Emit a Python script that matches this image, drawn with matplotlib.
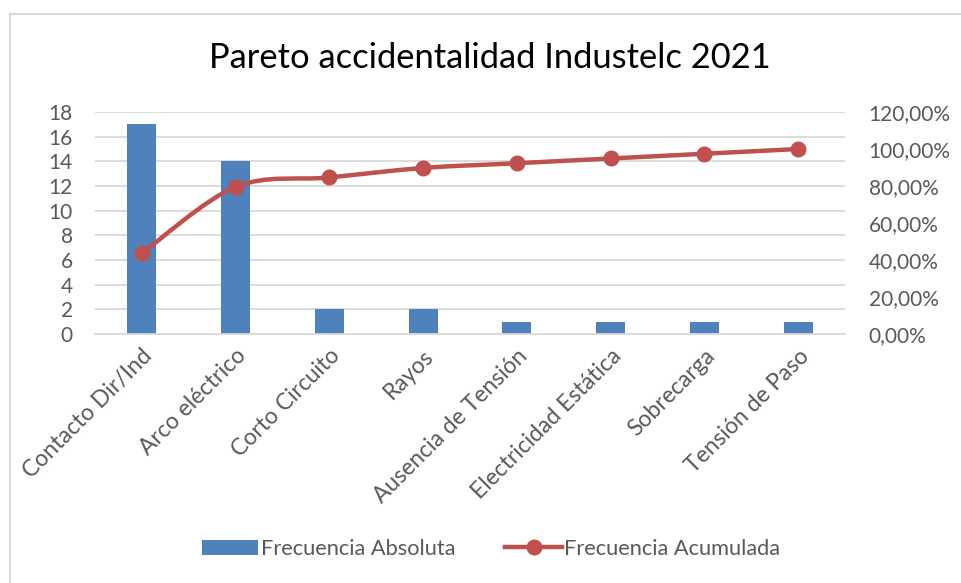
import matplotlib
matplotlib.use("Agg")
import matplotlib.pyplot as plt
from matplotlib.path import Path
from matplotlib.patches import PathPatch, Patch
from matplotlib.lines import Line2D
from matplotlib.ticker import FuncFormatter

# data
causas = ["Contacto Dir/Ind", "Arco eléctrico", "Corto Circuito", "Rayos",
          "Ausencia de Tensión", "Electricidad Estática", "Sobrecarga", "Tensión de Paso"]
frec_absoluta = [17, 14, 2, 2, 1, 1, 1, 1]
frec_acumulada = [0.4359, 0.7949, 0.8462, 0.8974, 0.9231, 0.9487, 0.9744, 1.0]

BLUE = "#4F81BD"
RED = "#C0504D"
TEXT = "#595959"
GRID = "#D9D9D9"

plt.rcParams["font.family"] = ["Lato", "DejaVu Sans"]

fig = plt.figure(figsize=(9.62, 5.83), dpi=100)
W, H = 962, 583
ax = fig.add_axes([95 / W, 1 - 334 / H, 750 / W, 222 / H])
ax2 = ax.twinx()

x = list(range(len(causas)))
ax.bar(x, frec_absoluta, width=0.31, color=BLUE, zorder=2)
ax.set_xlim(-0.5, len(causas) - 0.5)
ax.set_ylim(0, 18)
ax.set_yticks(range(0, 19, 2))
ax.grid(axis="y", color=GRID, linewidth=1.3, zorder=0)
ax.set_axisbelow(True)

# smoothed line (catmull-rom -> bezier), like excel's smoothed series
verts = [(x[0], frec_acumulada[0])]
codes = [Path.MOVETO]
n = len(x)
for i in range(n - 1):
    p0 = (x[max(i - 1, 0)], frec_acumulada[max(i - 1, 0)])
    p1 = (x[i], frec_acumulada[i])
    p2 = (x[i + 1], frec_acumulada[i + 1])
    p3 = (x[min(i + 2, n - 1)], frec_acumulada[min(i + 2, n - 1)])
    c1 = (p1[0] + (p2[0] - p0[0]) / 6, p1[1] + (p2[1] - p0[1]) / 6)
    c2 = (p2[0] - (p3[0] - p1[0]) / 6, p2[1] - (p3[1] - p1[1]) / 6)
    verts += [c1, c2, p2]
    codes += [Path.CURVE4] * 3
ax2.add_patch(PathPatch(Path(verts, codes), facecolor="none", edgecolor=RED,
                        linewidth=3.2, capstyle="round", joinstyle="round", zorder=3))
ax2.plot(x, frec_acumulada, linestyle="none", marker="o", markersize=10.5,
         color=RED, zorder=4)
ax2.set_ylim(0, 1.2)
ax2.set_yticks([0, 0.2, 0.4, 0.6, 0.8, 1.0, 1.2])
ax2.yaxis.set_major_formatter(FuncFormatter(lambda v, p: f"{v * 100:.2f}%".replace(".", ",")))

for a in (ax, ax2):
    for s in a.spines.values():
        s.set_visible(False)
    a.tick_params(length=0, labelsize=15, labelcolor=TEXT)
ax.spines["bottom"].set_visible(True)
ax.spines["bottom"].set_color(GRID)
ax.spines["bottom"].set_linewidth(1.3)
ax.tick_params(axis="y", pad=16)
ax2.tick_params(axis="y", pad=17)

ax.set_xticks(x)
ax.set_xticklabels(causas, rotation=45, ha="right", rotation_mode="anchor", fontsize=16.5)
ax.tick_params(axis="x", pad=8)

fig.text(490 / W, 1 - 58 / H, "Pareto accidentalidad Industelc 2021",
         ha="center", va="center", fontsize=24.8, color="black")

handles = [Patch(facecolor=BLUE),
           Line2D([], [], color=RED, linewidth=3.2, marker="o", markersize=10.5)]
fig.legend(handles, ["Frecuencia Absoluta", "Frecuencia Acumulada"],
           loc="center", bbox_to_anchor=(491 / W, 1 - 549 / H), ncol=2,
           frameon=False, fontsize=15.7, labelcolor=TEXT, handlelength=2.6,
           handletextpad=0.1, columnspacing=2.3)

# light frame of the chart area (left and top edges)
fig.add_artist(Line2D([9.5 / W, 9.5 / W], [0, 1 - 14 / H], color=GRID, linewidth=1.5))
fig.add_artist(Line2D([9.5 / W, 1], [1 - 14 / H, 1 - 14 / H], color=GRID, linewidth=1.5))

fig.savefig("out.png", dpi=100)
